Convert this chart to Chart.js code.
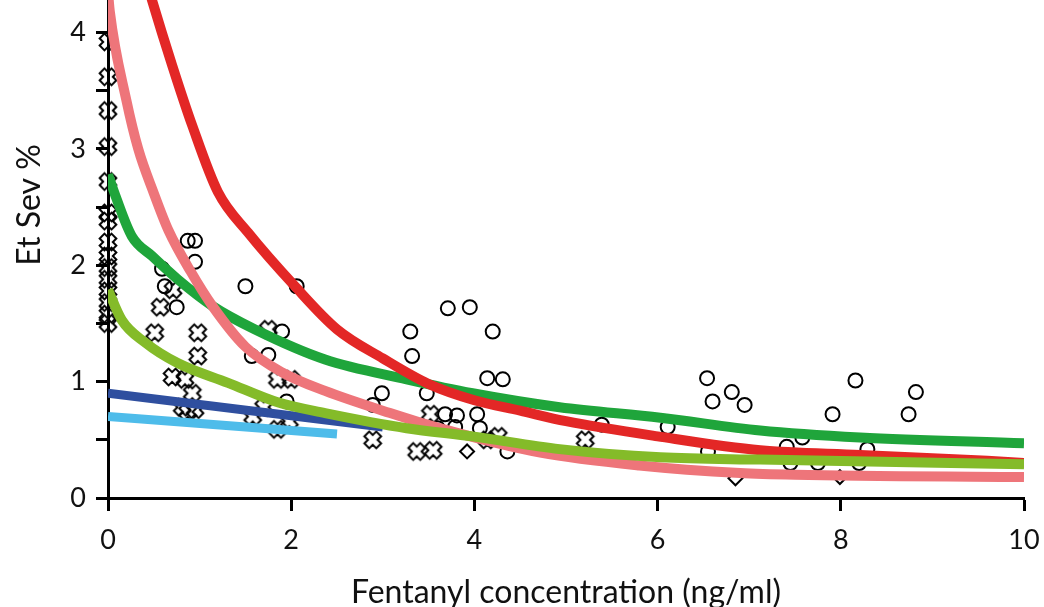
<!DOCTYPE html>
<html>
<head>
<meta charset="utf-8">
<script src="https://cdn.jsdelivr.net/npm/chart.js@4.4.1/dist/chart.umd.min.js"></script>
<style>
  html, body { margin: 0; padding: 0; background: #fff; }
  #wrap { width: 1044px; height: 607px; }
</style>
</head>
<body>
<div id="wrap"><canvas id="myChart"></canvas></div>
<script>
// scatter data (ng/ml, Et Sev %)
const circleX = [0.87, 0.95, 0.95, 0.59, 0.62, 0.75, 1.5, 2.06, 1.9, 1.57, 1.75, 1.95,
  3.71, 3.95, 3.30, 4.20, 3.32, 4.14, 4.31, 2.99, 2.89, 3.48, 3.68, 3.81, 4.03, 3.79, 4.06, 4.36, 3.6,
  6.54, 6.81, 6.6, 6.95, 8.16, 8.82, 7.91, 8.74, 5.39, 6.11, 6.55, 7.41, 7.58, 8.29, 7.45, 7.75, 8.2]
const circleY = [2.21, 2.21, 2.03, 1.97, 1.82, 1.64, 1.82, 1.82, 1.43, 1.22, 1.23, 0.83,
  1.63, 1.64, 1.43, 1.43, 1.22, 1.03, 1.02, 0.9, 0.8, 0.9, 0.72, 0.71, 0.72, 0.61, 0.6, 0.4, 0.6,
  1.03, 0.91, 0.83, 0.8, 1.01, 0.91, 0.72, 0.72, 0.63, 0.61, 0.4, 0.44, 0.52, 0.42, 0.3, 0.3, 0.3]

const crossX = [0, 0, 0, 0, 0, 0, 0, 0, 0, 0, 0, 0, 0, 0, 0,
  0.71, 0.57, 0.51, 0.98, 0.98, 0.70, 0.84, 0.92, 0.81, 0.87, 0.95, 1.75, 1.85, 2.0, 1.58, 1.85, 1.98, 1.7,
  2.89, 3.52, 3.37, 3.55, 4.26, 4.14, 5.21]
const crossY = [3.92, 3.62, 3.33, 3.02, 2.72, 2.45, 2.38, 2.2, 2.08, 1.98, 1.88, 1.78, 1.68, 1.58, 1.5,
  1.79, 1.64, 1.42, 1.42, 1.22, 1.04, 1.02, 0.9, 0.78, 0.74, 0.76, 1.45, 1.02, 1.02, 0.70, 0.59, 0.66, 0.78,
  0.5, 0.72, 0.4, 0.41, 0.53, 0.5, 0.5]

const diamondX = [3.92, 6.85, 7.99]
const diamondY = [0.4, 0.17, 0.18]

// fitted curves
const redX = [0.40, 0.48, 0.70, 0.92, 1.20, 1.53, 2.04, 2.5, 3.0, 3.5, 4.0, 4.5, 5.0, 6.0, 7.12, 8.21, 9.6, 10]
const redY = [4.5, 4.28, 3.72, 3.20, 2.63, 2.28, 1.82, 1.45, 1.2, 0.98, 0.84, 0.75, 0.66, 0.53, 0.41, 0.37, 0.32, 0.3]

const pinkX = [0, 0.02, 0.2, 0.33, 0.5, 0.66, 0.9, 1.14, 1.5, 1.9, 2.37, 3.08, 3.62, 4.72, 5.8, 6.9, 7.5, 10]
const pinkY = [4.35, 4.18, 3.42, 3.0, 2.62, 2.3, 1.95, 1.65, 1.3, 1.08, 0.92, 0.73, 0.6, 0.39, 0.28, 0.215, 0.2, 0.18]

const greenX = [0, 0.08, 0.26, 0.48, 0.76, 1.14, 1.6, 2.37, 3.26, 3.98, 4.93, 6.03, 7.12, 8.21, 10]
const greenY = [2.78, 2.6, 2.25, 2.08, 1.88, 1.65, 1.45, 1.19, 1.02, 0.9, 0.78, 0.69, 0.58, 0.52, 0.47]

const limeX = [0, 0.15, 0.40, 0.76, 1.31, 1.86, 2.37, 3.26, 3.98, 4.93, 6.03, 7.12, 10]
const limeY = [1.79, 1.53, 1.34, 1.16, 0.99, 0.82, 0.73, 0.60, 0.53, 0.42, 0.35, 0.33, 0.29]

const blueX = [0, 3.0]
const blueY = [0.9, 0.61]

const skyX = [0, 2.5]
const skyY = [0.7, 0.55]

const xTicks = [0, 2, 4, 6, 8, 10]
const yTicks = [0, 0.5, 1, 1.5, 2, 2.5, 3, 3.5, 4]

const pts = (xs, ys) => xs.map((x, i) => ({ x: x, y: ys[i] }))

function makeCross() {
  const c = document.createElement('canvas')
  c.width = 24
  c.height = 24
  const g = c.getContext('2d')
  g.translate(12, 12)
  g.rotate(Math.PI / 4)
  const a = 3.4, b = 8.4
  g.beginPath()
  g.moveTo(-a, -b); g.lineTo(a, -b); g.lineTo(a, -a); g.lineTo(b, -a)
  g.lineTo(b, a); g.lineTo(a, a); g.lineTo(a, b); g.lineTo(-a, b)
  g.lineTo(-a, a); g.lineTo(-b, a); g.lineTo(-b, -a); g.lineTo(-a, -a)
  g.closePath()
  g.lineWidth = 2
  g.strokeStyle = '#000'
  g.stroke()
  return c
}

const curve = (data, color, width, order) => ({
  type: 'line',
  data: data,
  borderColor: color,
  borderWidth: width,
  pointRadius: 0,
  fill: false,
  cubicInterpolationMode: 'monotone',
  order: order
})

// y title sits above the middle of the visible axis, as in the source
const yTitle = {
  id: 'yTitle',
  afterDraw(chart) {
    const g = chart.ctx
    g.save()
    g.translate(30, 205)
    g.rotate(-Math.PI / 2)
    g.font = '32px Lato'
    g.fillStyle = '#111'
    g.textAlign = 'center'
    g.textBaseline = 'middle'
    g.fillText('Et Sev %', 0, 0)
    g.restore()
  }
}

const ctx = document.getElementById('myChart')
const myChart = new Chart(ctx, {
  type: 'scatter',
  data: {
    datasets: [
      curve(pts(limeX, limeY), '#84bb29', 10, 1),
      curve(pts(redX, redY), '#e32726', 10, 2),
      curve(pts(pinkX, pinkY), '#ee757a', 10, 3),
      curve(pts(greenX, greenY), '#1fa53b', 10, 4),
      curve(pts(skyX, skyY), '#4ebcea', 9, 5),
      curve(pts(blueX, blueY), '#2f4f9f', 9, 6),
      {
        data: pts(circleX, circleY),
        pointStyle: 'circle',
        pointRadius: 7,
        borderColor: '#000',
        backgroundColor: 'rgba(0,0,0,0)',
        borderWidth: 2,
        clip: false,
        order: 10
      },
      {
        data: pts(crossX, crossY),
        pointStyle: makeCross(),
        clip: false,
        order: 11
      },
      {
        data: pts(diamondX, diamondY),
        pointStyle: 'rectRot',
        pointRadius: 7,
        borderColor: '#000',
        backgroundColor: 'rgba(0,0,0,0)',
        borderWidth: 2,
        clip: false,
        order: 12
      }
    ]
  },
  options: {
    responsive: true,
    maintainAspectRatio: false,
    animation: false,
    layout: { autoPadding: false, padding: { top: 0, right: 20, bottom: 0, left: 0 } },
    plugins: { legend: { display: false }, tooltip: { enabled: false } },
    scales: {
      x: {
        type: 'linear',
        min: 0,
        max: 10,
        afterBuildTicks: s => { s.ticks = xTicks.map(v => ({ value: v })) },
        afterFit: s => { s.height = 109; s.paddingLeft = 0; s.paddingRight = 0 },
        border: { display: true, color: '#000', width: 3 },
        grid: { drawOnChartArea: false, drawTicks: true, tickLength: 13, tickWidth: 3, tickColor: '#000' },
        ticks: { color: '#111', padding: 13, font: { family: 'Lato', size: 27 } },
        title: {
          display: true,
          text: 'Fentanyl concentration (ng/ml)',
          color: '#111',
          font: { family: 'Lato', size: 32 },
          padding: { top: 0, bottom: -5 }
        }
      },
      y: {
        type: 'linear',
        min: 0,
        max: 4.28,
        afterBuildTicks: s => { s.ticks = yTicks.map(v => ({ value: v })) },
        afterFit: s => { s.width = 108; s.paddingTop = 0; s.paddingBottom = 0 },
        border: { display: true, color: '#000', width: 3 },
        grid: { drawOnChartArea: false, drawTicks: true, tickLength: 12, tickWidth: 3, tickColor: '#000' },
        ticks: {
          color: '#111',
          padding: 10,
          font: { family: 'Lato', size: 27 },
          callback: v => (Number.isInteger(v) ? String(v) : '')
        }
      }
    }
  },
  plugins: [yTitle]
})
</script>
</body>
</html>
